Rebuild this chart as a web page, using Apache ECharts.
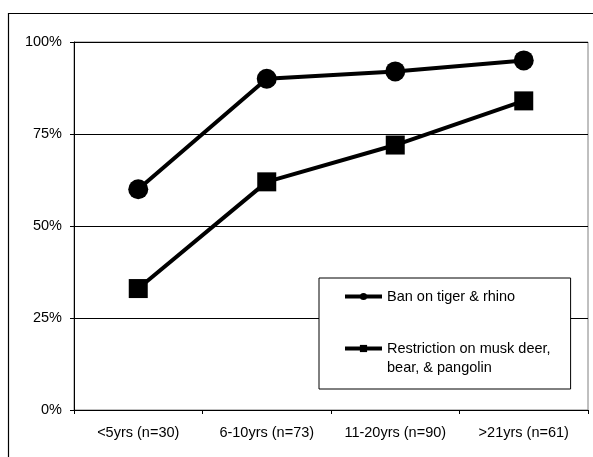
<!DOCTYPE html>
<html><head><meta charset="utf-8">
<script src="https://cdn.jsdelivr.net/npm/echarts@6/dist/echarts.min.js"></script>
<style>html,body{margin:0;padding:0;background:#fff}#c{width:593px;height:457px}</style>
</head><body><div id="c"></div>
<script>
var categories = ['<5yrs (n=30)', '6-10yrs (n=73)', '11-20yrs (n=90)', '>21yrs (n=61)'];
var banTigerRhino = [60, 90, 92, 95];
var restrictionMusk = [33, 62, 72, 84];
var yTicks = [0, 25, 50, 75, 100];
var seriesNames = ['Ban on tiger & rhino', 'Restriction on musk deer,\nbear, & pangolin'];

var font = 'Liberation Sans, Arial, sans-serif';
var chart = echarts.init(document.getElementById('c'), null, {renderer: 'canvas'});
chart.setOption({
  animation: false,
  backgroundColor: '#fff',
  graphic: [{
    type: 'rect', shape: {x: 8.5, y: 13.5, width: 620, height: 480},
    style: {fill: 'none', stroke: '#000', lineWidth: 1.2}, silent: true, z: 0
  }],
  grid: {left: 74, top: 42, right: 5, bottom: 47, show: true, borderColor: '#808080', borderWidth: 1, backgroundColor: 'transparent'},
  legend: {
    orient: 'vertical', left: 319, top: 278,
    padding: [9, 20, 12, 24],
    itemGap: 14, itemWidth: 37, itemHeight: 9,
    borderColor: '#000', borderWidth: 1, backgroundColor: '#fff',
    lineStyle: {width: 4},
    textStyle: {fontFamily: font, fontSize: 14.5, color: '#000', lineHeight: 19},
    formatter: function (name) {
      return name.indexOf('\n') >= 0 ? '\u00a0\n' + name : name;
    },
    data: [seriesNames[0], seriesNames[1]]
  },
  xAxis: {
    type: 'category', data: categories, boundaryGap: true,
    axisLine: {lineStyle: {color: '#000', width: 1}},
    axisTick: {show: true, length: 4, lineStyle: {color: '#000'}},
    axisLabel: {fontFamily: font, fontSize: 14.5, color: '#000', margin: 15, interval: 0}
  },
  yAxis: {
    type: 'value', min: 0, max: 100, interval: 25,
    axisLine: {show: true, lineStyle: {color: '#000', width: 1}},
    axisTick: {show: true, length: 4, lineStyle: {color: '#000'}},
    splitLine: {show: true, lineStyle: {color: '#000', width: 1}},
    axisLabel: {fontFamily: font, fontSize: 14.5, color: '#000', margin: 12,
      formatter: function (v) { return yTicks.indexOf(v) >= 0 ? v + '%' : ''; }}
  },
  series: [{
    name: seriesNames[0], type: 'line', data: banTigerRhino,
    symbol: 'circle', symbolSize: 20,
    lineStyle: {color: '#000', width: 4}, itemStyle: {color: '#000'}, z: 3
  }, {
    name: seriesNames[1], type: 'line', data: restrictionMusk,
    symbol: 'rect', symbolSize: 19,
    lineStyle: {color: '#000', width: 4}, itemStyle: {color: '#000'}, z: 3
  }]
});
</script></body></html>
